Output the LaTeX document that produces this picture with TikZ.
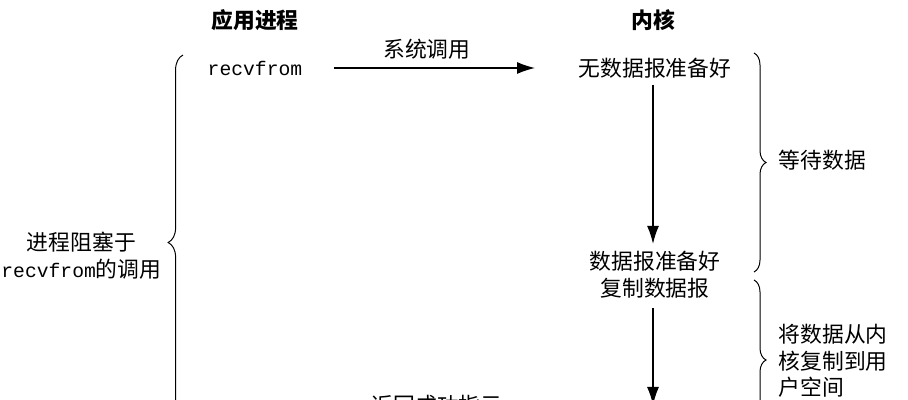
\documentclass[tikz,border=0pt]{standalone}
\usepackage{fontspec}
\setmonofont{Liberation Mono}
\newfontfamily\cjk{Noto Sans CJK SC}
\usetikzlibrary{arrows.meta,decorations.pathreplacing}

\begin{document}
\begin{tikzpicture}[x=0.025cm,y=-0.025cm,
    lbl/.style={font=\fontsize{15.5}{19}\selectfont\cjk,inner sep=1pt,align=center},
    hdr/.style={font=\fontsize{15.5}{19}\selectfont\cjk\bfseries,inner sep=1pt},
    code/.style={font=\fontsize{14}{19}\selectfont\ttfamily,inner sep=1pt},
    arr/.style={line width=0.9pt,-{Latex[length=4.5mm,width=3mm]}},
    brc/.style={line width=0.7pt,decorate,decoration={brace,amplitude=#1}}]

    % Size of the picture (the bottom is cut off)
    \clip (0,0) rectangle (908,400);

    % Column headings
    \node[hdr] (app) at (255,20) {应用进程};
    \node[hdr] (kernel) at (653,20) {内核};

    % The call on the application side and the kernel states
    \node[code] (recv) at (255,68) {recvfrom};
    \node[lbl] (nodata) at (655,68) {无数据报准备好};
    \node[lbl] (ready) at (655,275) {数据报准备好\\复制数据报};
    \coordinate (done) at (653,405);
    \node[lbl] (ret) at (437,405) {返回成功指示};

    % System call from the process into the kernel
    \draw[arr,shorten <=0.75cm,shorten >=1.05cm] (recv.east) -- (recv.east -| nodata.west)
        node[pos=0.45,above=5pt,lbl] (syscall) {系统调用};

    % Kernel goes down the time line
    \draw[arr,shorten <=0.12cm,shorten >=0.15cm] (nodata.south -| done) -- (ready.north -| done);
    \draw[arr,shorten <=0.2cm] (ready.south -| done) -- (done);

    % Brace on the left: the process is blocked
    \draw[brc=0.37cm] (183,430) -- (183,55);
    \node[lbl,anchor=east] (blocked) at (163,256) {进程阻塞于\\{\fontsize{14}{19}\selectfont\ttfamily recvfrom}的调用};

    % Braces on the right: the two phases
    \draw[brc=0.3cm] (754,53) -- (754,272);
    \node[lbl,anchor=west] (wait) at (777,160) {等待数据};
    \draw[brc=0.3cm] (754,280) -- (754,440);
    \node[lbl,anchor=west,align=left] (copy) at (777,361) {将数据从内\\核复制到用\\户空间};

\end{tikzpicture}
\end{document}
